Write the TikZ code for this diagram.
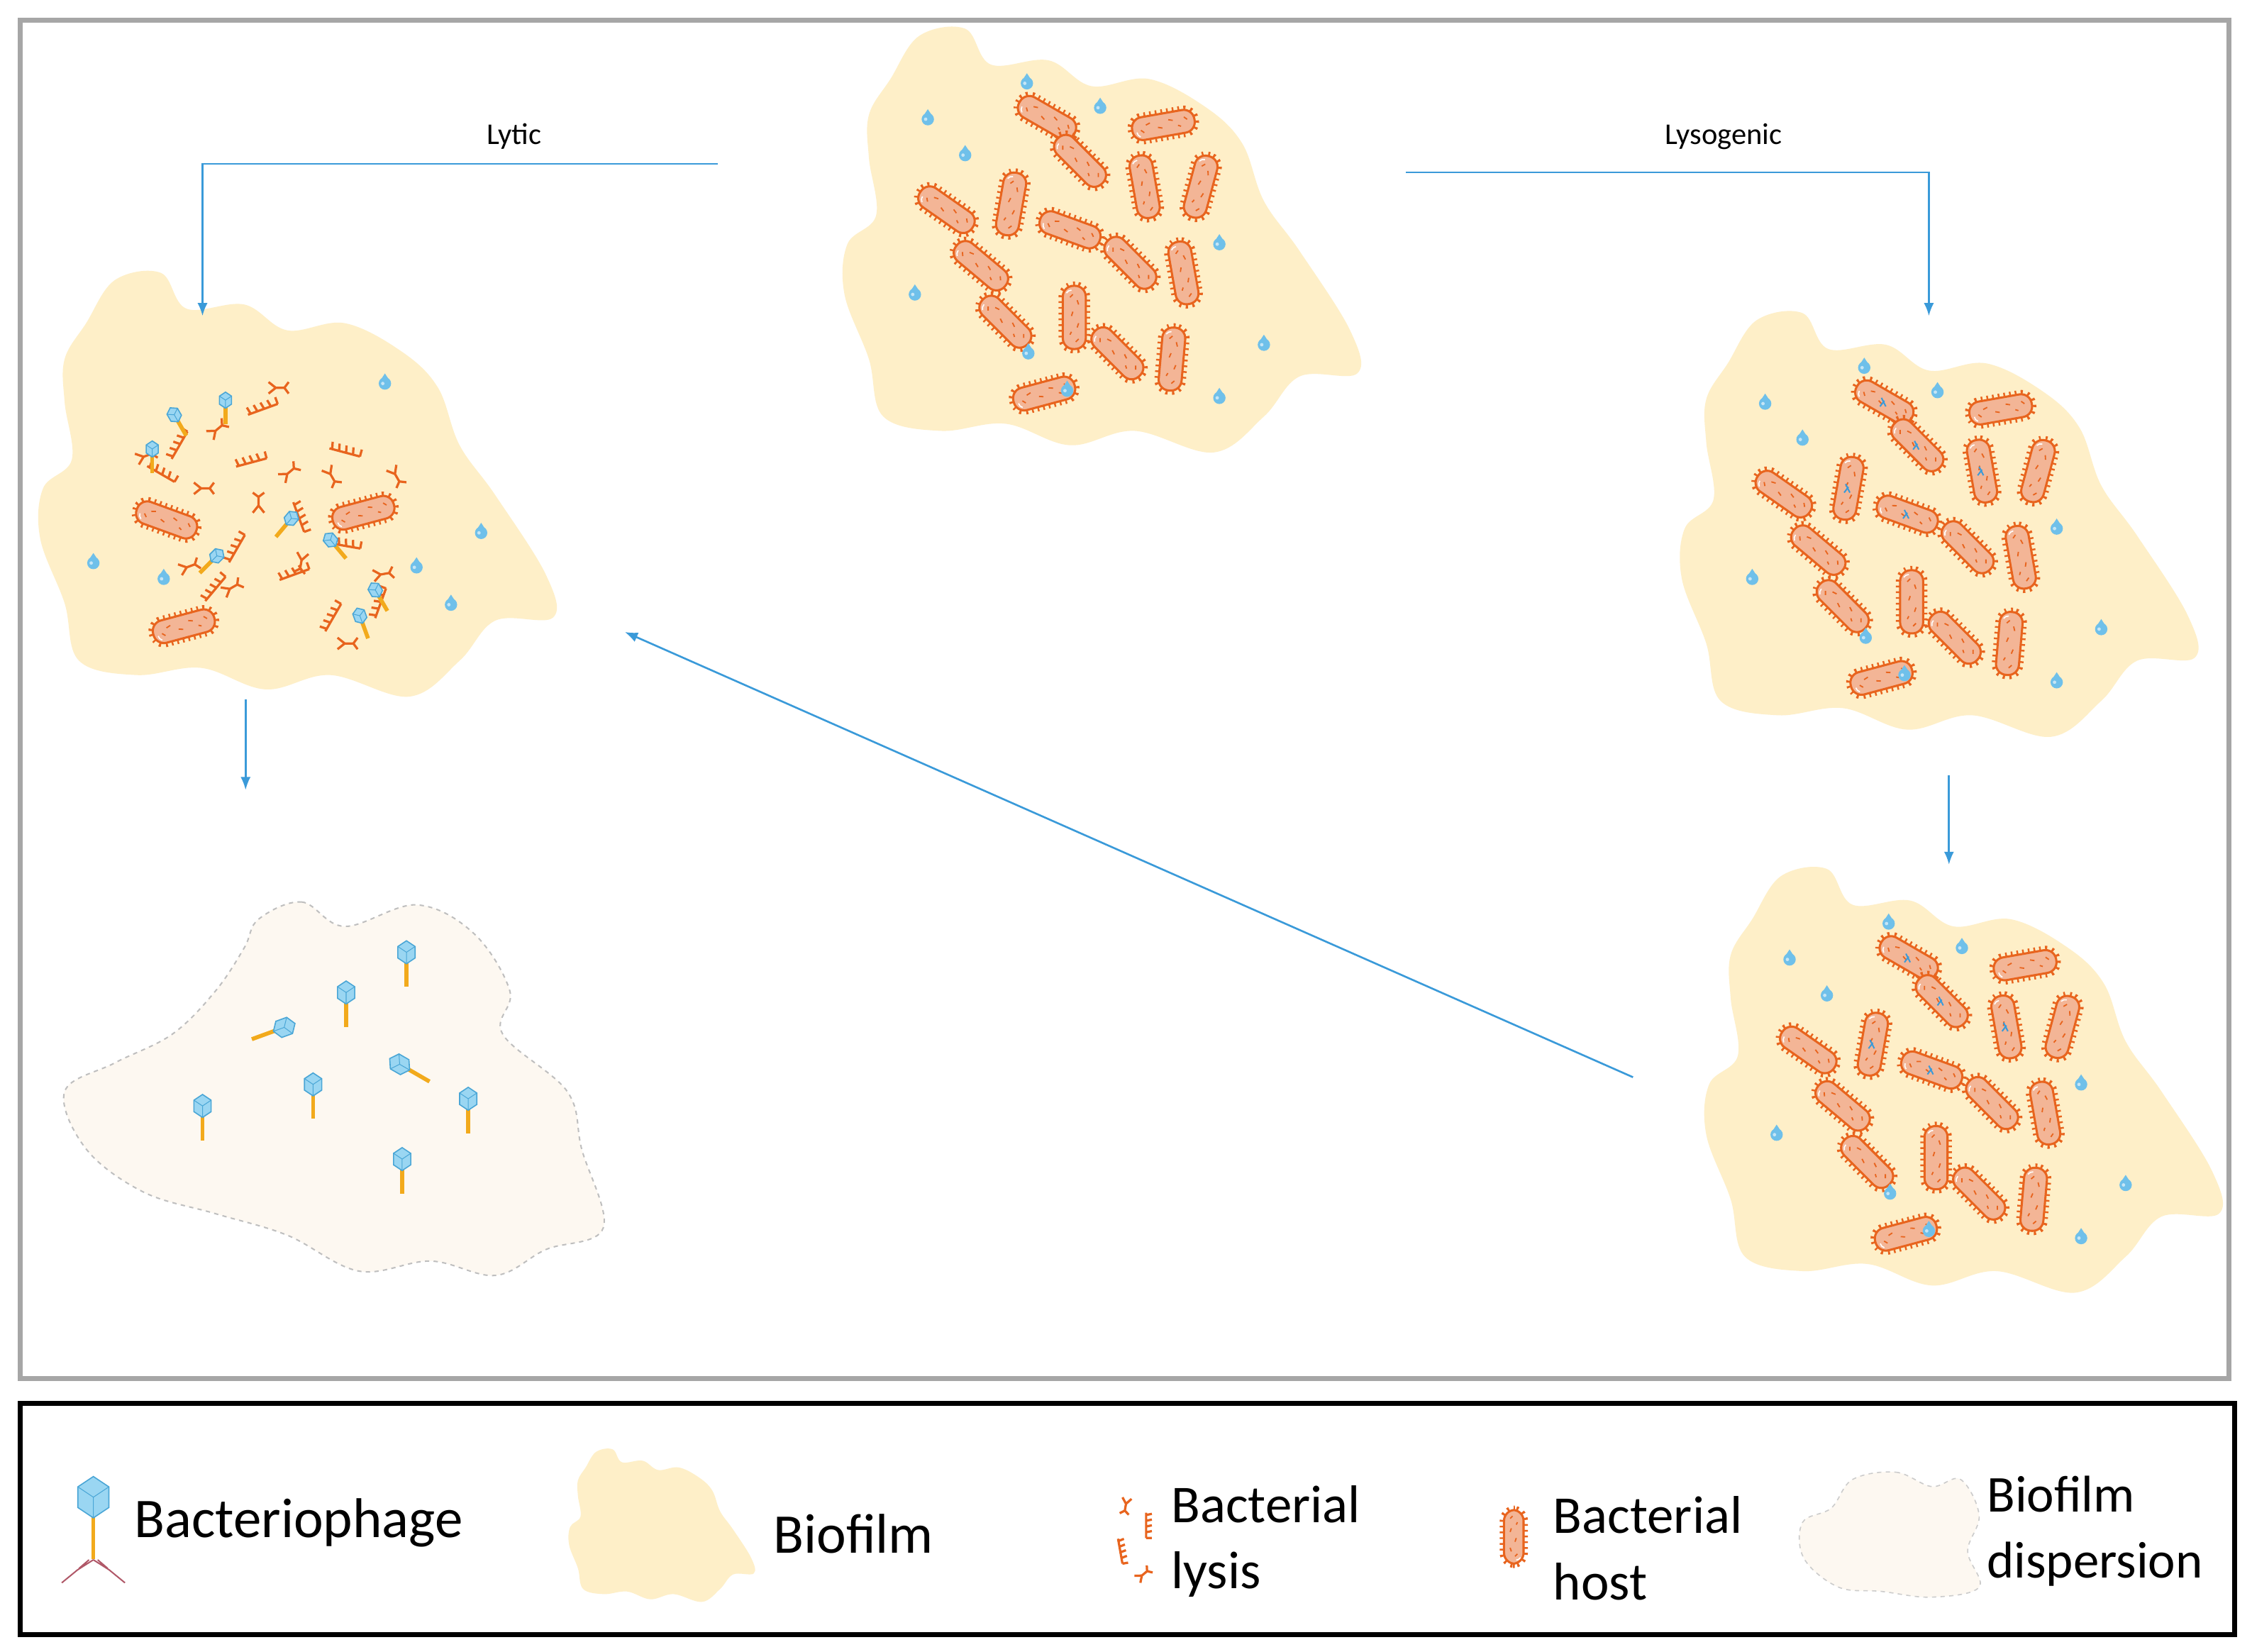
\documentclass[tikz,border=0pt]{standalone}
\usepackage{fontspec}
\setmainfont{Carlito}
\usetikzlibrary{arrows.meta}
\begin{document}
\begin{tikzpicture}[x=1pt,y=-1pt,
 arr/.style={draw=arrblue,line width=1.3pt,-{Latex[length=9pt,width=7pt]}},
 bact/.pic={
  \draw[draw=borange,line width=6pt,dash pattern=on 1.2pt off 2.8pt,rounded corners=7.5pt] (-22,-8) rectangle (22,8);
  \draw[draw=borange,fill=bfill,line width=1.5pt,rounded corners=7.5pt] (-22,-8) rectangle (22,8);
  \draw[borange,line width=0.9pt] (-12,-2)--(-9,-3) (-4,1)--(-1,2) (4,-3)--(7,-2) (10,2)--(12,3) (-14,3)--(-16,1) (15,-3)--(17,-1);
  \draw[white,line width=0.8pt] (-19,2) arc (180:120:4);
 },
 lyso/.pic={\draw[arrblue,line width=1pt] (-2,-3)--(1,3) (0,-1)--(-3,3);},
 drop/.pic={\fill[dropc] (0,-7)--(3.6,-1.5)--(-3.6,-1.5)--cycle; \fill[dropc] (0,0) circle (4.3); \fill[white,opacity=.6] (-1.5,0) circle (1.2);},
 phage/.pic={\draw[tailc,line width=2.8pt] (0,4)--(0,22); \draw[headc,fill=headf,line width=0.8pt] (0,-10)--(6,-6)--(6,2)--(0,6)--(-6,2)--(-6,-6)--cycle; \draw[headc,line width=0.5pt] (-6,-6)--(0,-2)--(6,-6) (0,-2)--(0,6);},
 comb/.pic={\draw[borange,line width=1.6pt] (-11,0)--(11,0) (-9,0)--(-10,-5) (-4,0)--(-5,-5) (1,0)--(0,-5) (6,0)--(5,-5) (11,0)--(11,-5);},
 yfrag/.pic={\draw[borange,line width=1.6pt] (-5,-4)--(0,0)--(-5,4) (0,0)--(6,0)--(9,-4) (6,0)--(9,4);},
]
\definecolor{biofilm}{HTML}{FEEFC8}
\definecolor{disp}{HTML}{FDF8F1}
\definecolor{borange}{HTML}{E8641E}
\definecolor{bfill}{HTML}{F3B596}
\definecolor{arrblue}{HTML}{3A9AD9}
\definecolor{dropc}{HTML}{6FC0EA}
\definecolor{headf}{HTML}{9AD6F2}
\definecolor{headc}{HTML}{4AA6D6}
\definecolor{tailc}{HTML}{F2AA1C}
\definecolor{legc}{HTML}{B05868}
\useasboundingbox (0,0) rectangle (1568,1150);
\fill[white] (0,0) rectangle (1568,1150);
\newcommand\blobpath{plot[smooth cycle,tension=0.6] coordinates {(640,25)(672,20)(690,45)(730,42)(760,60)(800,55)(840,75)(865,100)(880,140)(905,175)(940,230)(945,260)(905,262)(880,290)(845,315)(790,300)(745,310)(700,295)(655,300)(615,290)(605,250)(588,205)(590,170)(610,150)(605,110)(605,80)(620,55)}}
\newcommand\cluster[1]{%
 \foreach \x/\y/\a in {729/82/-30,810/87/10,752/112/-45,659/146/-35,704/142/-100,797/130/-80,836/130/-105,745/160/-20,683/185/-40,787/183/-45,824/190/-80,700/224/-45,748/221/-90,778/246/-45,816/250/-95,727/274/15}
  \pic[rotate=\a] at (\x,\y) {bact};
 \foreach \x/\y in {715/58,672/108,646/83,637/205,716/246,743/272,849/170,880/240,849/277,766/75}
  \pic at (\x,\y) {drop};
 #1}
% frames
\draw[gray!70,line width=3.5pt] (14,14) rectangle (1552,960);
\draw[black,line width=3.5pt] (14,977) rectangle (1556,1138);
% biofilms
\fill[biofilm] \blobpath;
\cluster{}
\begin{scope}[shift={(583,198)}]
 \fill[biofilm] \blobpath; \cluster{\foreach \x/\y in {729/82,752/112,704/142,797/130,745/160} \pic at (\x,\y) {lyso};}
\end{scope}
\begin{scope}[shift={(600,585)}]
 \fill[biofilm] \blobpath; \cluster{\foreach \x/\y in {729/82,752/112,704/142,797/130,745/160} \pic at (\x,\y) {lyso};}
\end{scope}
\begin{scope}[shift={(-560,170)}]
 \fill[biofilm] \blobpath;
\end{scope}
% lytic content
\foreach \x/\y/\a in {116/362/-20,253/357/15,128/436/15} \pic[rotate=\a] at (\x,\y) {bact};
\foreach \x/\y/\a in {183/285/20,125/310/60,175/322/15,240/315/-15,112/330/-30,165/382/60,208/360/-70,240/380/-10,150/410/50,265/420/70,232/430/60,205/400/20} \pic[rotate=\a] at (\x,\y) {comb};
\foreach \x/\y/\a in {192/270/0,150/300/40,100/318/20,230/330/-60,140/340/0,200/330/40,275/330/-60,180/352/90,210/390/-100,160/410/30,130/395/20,240/448/0,265/400/10} \pic[rotate=\a] at (\x,\y) {yfrag};
\foreach \x/\y/\a in {157/280/0,122/290/30,106/314/0,202/362/-40,231/377/40,150/388/-45,262/412/30,251/430/20} \pic[rotate=\a,scale=0.7] at (\x,\y) {phage};
\foreach \x/\y in {268/267,65/392,114/403,290/395,335/371,314/421} \pic at (\x,\y) {drop};
% dispersion
\draw[gray!50,fill=disp,line width=1pt,dashed] plot[smooth cycle,tension=0.6] coordinates {(180,640)(210,628)(240,645)(290,630)(330,650)(355,690)(350,720)(395,760)(405,800)(420,855)(380,870)(345,888)(300,878)(250,885)(200,860)(150,845)(100,830)(60,800)(45,760)(80,740)(120,720)(150,690)(170,660)};
\foreach \x/\y/\a in {283/665/0,241/693/0,196/716/-70,280/742/60,218/757/0,141/772/0,326/767/0,280/809/0} \pic[rotate=\a] at (\x,\y) {phage};
% arrows
\coordinate (l1) at (500,114); \coordinate (l2) at (141,114); \coordinate (l3) at (141,220);
\draw[arr] (l1)--(l2)--(l3);
\node[font=\fontsize{21}{24}\selectfont] (lytic) at (358,95) {Lytic};
\coordinate (r1) at (979,120); \coordinate (r2) at (1343,120); \coordinate (r3) at (1343,220);
\draw[arr] (r1)--(r2)--(r3);
\node[font=\fontsize{21}{24}\selectfont] (lyso) at (1200,95) {Lysogenic};
\coordinate (d1) at (171,487); \coordinate (d2) at (171,550);
\draw[arr] (d1)--(d2);
\coordinate (e1) at (1357,540); \coordinate (e2) at (1357,602);
\draw[arr] (e1)--(e2);
\coordinate (g1) at (1137,750); \coordinate (g2) at (435,440);
\draw[arr] (g1)--(g2);
% legend
\draw[legc,line width=1pt] (65,1086)--(54,1093)--(43,1102) (65,1086)--(76,1093)--(87,1102) (62,1086)--(55,1092) (68,1086)--(75,1092);
\pic[scale=1.8] at (65,1046) {phage};
\node[anchor=west,font=\fontsize{39}{44}\selectfont] (tb) at (90,1060) {Bacteriophage};
\begin{scope}[shift={(460,1062)},scale=0.36,shift={(-765,-167)}]
 \fill[biofilm] \blobpath;
\end{scope}
\node[anchor=west,font=\fontsize{39}{44}\selectfont] (tbf) at (535,1068) {Biofilm};
\pic[rotate=-100,scale=0.8] at (784,1047) {yfrag};
\pic[rotate=-90,scale=0.8] at (798,1062) {comb};
\pic[rotate=-80,scale=0.8] at (780,1080) {comb};
\pic[rotate=40,scale=0.8] at (795,1097) {yfrag};
\node[anchor=west,align=left,font=\fontsize{37}{46}\selectfont] (tl) at (812,1073) {Bacterial\\lysis};
\pic[rotate=90,scale=0.85] at (1054,1070) {bact};
\node[anchor=west,align=left,font=\fontsize{37}{46}\selectfont] (th) at (1078,1078) {Bacterial\\host};
\draw[gray!40,fill=disp,line width=0.8pt,dashed] plot[smooth cycle,tension=0.6] coordinates {(1290,1030)(1320,1025)(1345,1035)(1365,1030)(1378,1055)(1370,1080)(1378,1105)(1345,1112)(1310,1108)(1280,1105)(1256,1085)(1255,1060)(1275,1050)};
\node[anchor=west,align=left,font=\fontsize{36}{46}\selectfont] (td) at (1380,1066) {Biofilm\\dispersion};
\end{tikzpicture}
\end{document}
